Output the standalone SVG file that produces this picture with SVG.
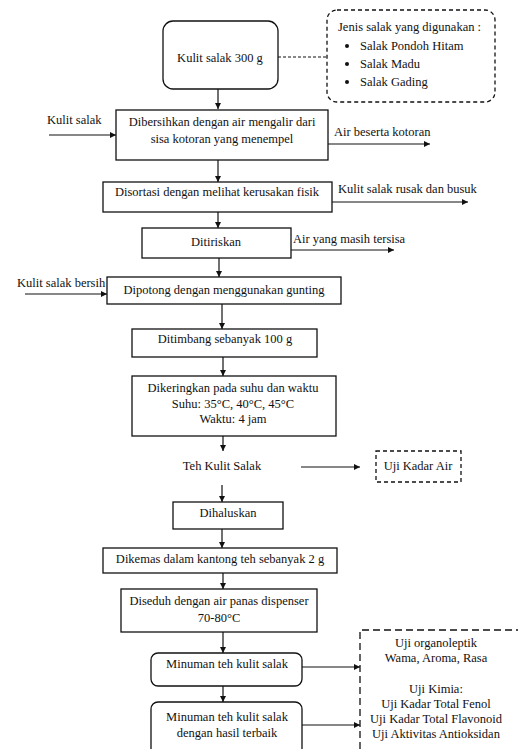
<svg xmlns="http://www.w3.org/2000/svg" width="518" height="749" viewBox="0 0 518 749" font-family="'Liberation Serif', 'Times New Roman', serif">
<style>
text{font-family:'Liberation Serif','Times New Roman',serif;font-size:12.5px;fill:#111}
.c{text-anchor:middle}
.box{fill:#fff;stroke:#111;stroke-width:1.3}
.dash{fill:none;stroke:#111;stroke-width:1.3;stroke-dasharray:4 3}
.ln{fill:none;stroke:#111;stroke-width:1.2}
</style>
<defs>
<marker id="ah" markerWidth="6" markerHeight="6" refX="6" refY="3" orient="auto" markerUnits="userSpaceOnUse">
<path d="M0,0 L6,3 L0,6 Z" fill="#111"/>
</marker>
</defs>
<rect width="518" height="749" fill="#fff"/>
<g id="connectors">
<line class="ln" x1="278" y1="57" x2="327" y2="57" stroke-dasharray="3 2"/>
<line class="ln" x1="218" y1="89" x2="218" y2="109" marker-end="url(#ah)"/>
<line class="ln" x1="218" y1="160" x2="218" y2="182" marker-end="url(#ah)"/>
<line class="ln" x1="218" y1="212" x2="218" y2="228" marker-end="url(#ah)"/>
<line class="ln" x1="219" y1="258" x2="219" y2="277" marker-end="url(#ah)"/>
<line class="ln" x1="222" y1="304" x2="222" y2="329" marker-end="url(#ah)"/>
<line class="ln" x1="223" y1="357" x2="223" y2="376" marker-end="url(#ah)"/>
<line class="ln" x1="223" y1="436" x2="223" y2="451" marker-end="url(#ah)"/>
<line class="ln" x1="222" y1="485" x2="222" y2="502" marker-end="url(#ah)"/>
<line class="ln" x1="222" y1="529" x2="222" y2="548" marker-end="url(#ah)"/>
<line class="ln" x1="223" y1="573" x2="223" y2="589" marker-end="url(#ah)"/>
<line class="ln" x1="223" y1="632" x2="223" y2="653" marker-end="url(#ah)"/>
<line class="ln" x1="223" y1="686" x2="223" y2="702" marker-end="url(#ah)"/>
<line class="ln" x1="49" y1="135" x2="116" y2="135" marker-end="url(#ah)"/>
<line class="ln" x1="25" y1="294" x2="107" y2="294" marker-end="url(#ah)"/>
<line class="ln" x1="328" y1="144" x2="430" y2="144" marker-end="url(#ah)"/>
<line class="ln" x1="332" y1="202" x2="468" y2="202" marker-end="url(#ah)"/>
<line class="ln" x1="291" y1="250" x2="394" y2="250" marker-end="url(#ah)"/>
<line class="ln" x1="301" y1="467" x2="360" y2="467" marker-end="url(#ah)"/>
<line class="ln" x1="302" y1="667" x2="360" y2="667" marker-end="url(#ah)"/>
<line class="ln" x1="302" y1="725" x2="360" y2="725" marker-end="url(#ah)"/>
</g>
<g id="n-start">
<rect class="box" x="163" y="21" width="115" height="68" rx="10"/>
<text class="c" x="220" y="62">Kulit salak 300 g</text>
</g>
<g id="n-jenis">
<rect class="dash" x="327" y="10" width="168" height="92" rx="10"/>
<text x="338" y="31">Jenis salak yang digunakan :</text>
<circle cx="347" cy="46" r="2" fill="#111"/>
<circle cx="347" cy="64" r="2" fill="#111"/>
<circle cx="347" cy="82" r="2" fill="#111"/>
<text x="360" y="50">Salak Pondoh Hitam</text>
<text x="360" y="68">Salak Madu</text>
<text x="360" y="86">Salak Gading</text>
</g>
<g id="n-bersih">
<rect class="box" x="116" y="110" width="212" height="50"/>
<text class="c" x="222" y="126">Dibersihkan dengan air mengalir dari</text>
<text class="c" x="222" y="143">sisa kotoran yang menempel</text>
</g>
<g id="l-in1"><text x="47" y="124">Kulit salak</text></g>
<g id="l-out1"><text x="334" y="136">Air beserta kotoran</text></g>
<g id="n-sortasi">
<rect class="box" x="103" y="182" width="229" height="30"/>
<text class="c" x="217" y="196">Disortasi dengan melihat kerusakan fisik</text>
</g>
<g id="l-out2"><text x="338" y="193">Kulit salak rusak dan busuk</text></g>
<g id="n-tiris">
<rect class="box" x="142" y="228" width="149" height="30"/>
<text class="c" x="216" y="246">Ditiriskan</text>
</g>
<g id="l-out3"><text x="293" y="243">Air yang masih tersisa</text></g>
<g id="n-potong">
<rect class="box" x="107" y="277" width="234" height="27"/>
<text class="c" x="224" y="294">Dipotong dengan menggunakan gunting</text>
</g>
<g id="l-in2"><text x="17" y="287">Kulit salak bersih</text></g>
<g id="n-timbang">
<rect class="box" x="132" y="329" width="185" height="28"/>
<text class="c" x="225" y="343">Ditimbang sebanyak 100 g</text>
</g>
<g id="n-kering">
<rect class="box" x="132" y="376" width="204" height="60"/>
<text class="c" x="233" y="392">Dikeringkan pada suhu dan waktu</text>
<text class="c" x="233" y="408">Suhu: 35°C, 40°C, 45°C</text>
<text class="c" x="233" y="423">Waktu: 4 jam</text>
</g>
<g id="n-teh">
<text class="c" x="222" y="470">Teh Kulit Salak</text>
</g>
<g id="n-ujiair">
<rect class="dash" x="376" y="451" width="85" height="31"/>
<text class="c" x="418" y="470">Uji Kadar Air</text>
</g>
<g id="n-halus">
<rect class="box" x="173" y="502" width="110" height="27"/>
<text class="c" x="228" y="517">Dihaluskan</text>
</g>
<g id="n-kemas">
<rect class="box" x="103" y="548" width="234" height="25"/>
<text class="c" x="220" y="563">Dikemas dalam kantong teh sebanyak 2 g</text>
</g>
<g id="n-seduh">
<rect class="box" x="121" y="589" width="196" height="43"/>
<text class="c" x="219" y="605">Diseduh dengan air panas dispenser</text>
<text class="c" x="219" y="622">70-80°C</text>
</g>
<g id="n-minum">
<rect class="box" x="151" y="653" width="151" height="33" rx="7"/>
<text class="c" x="227" y="668">Minuman teh kulit salak</text>
</g>
<g id="n-terbaik">
<rect class="box" x="151" y="702" width="151" height="60" rx="7"/>
<text class="c" x="227" y="721">Minuman teh kulit salak</text>
<text class="c" x="227" y="737">dengan hasil terbaik</text>
</g>
<g id="n-uji">
<path d="M360,749 V630 H518" fill="none" stroke="#111" stroke-width="1.3" stroke-dasharray="7 4"/>
<text class="c" x="436" y="647">Uji organoleptik</text>
<text class="c" x="436" y="662">Wama, Aroma, Rasa</text>
<text class="c" x="436" y="693">Uji Kimia:</text>
<text class="c" x="436" y="708">Uji Kadar Total Fenol</text>
<text class="c" x="436" y="723">Uji Kadar Total Flavonoid</text>
<text class="c" x="436" y="738">Uji Aktivitas Antioksidan</text>
</g>
</svg>
